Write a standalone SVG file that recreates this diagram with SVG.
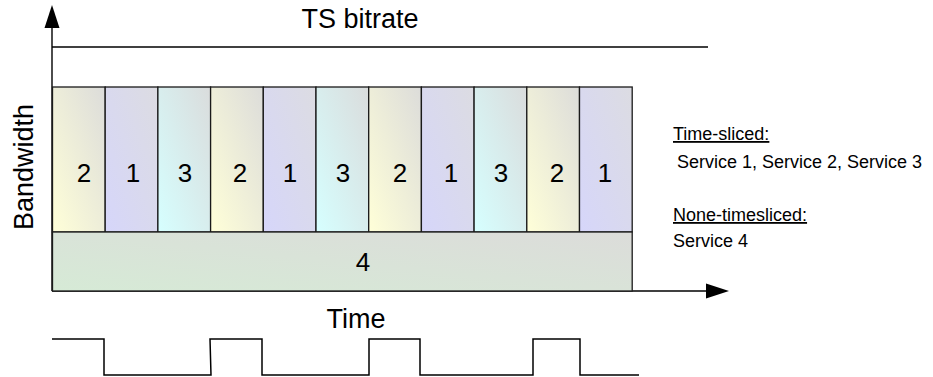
<svg xmlns="http://www.w3.org/2000/svg" width="933" height="377" viewBox="0 0 933 377">
  <style>
    .lbl { font-family: "Liberation Sans", Arial, sans-serif; fill: #000; }
    .big { font-size: 27px; }
    .num { font-size: 26px; text-anchor: middle; }
    .note { font-size: 18px; }
    .slot { stroke: #1a1a1a; stroke-width: 1.3; }
    .axis { stroke: #000; stroke-width: 1.4; fill: none; }
    .wave { stroke: #000; stroke-width: 1.5; fill: none; }
  </style>
  <defs>
    <linearGradient id="gY" x1="0" y1="1" x2="1" y2="0">
      <stop offset="0" stop-color="#FFFFD8"/>
      <stop offset="1" stop-color="#DCDCDA"/>
    </linearGradient>
    <linearGradient id="gP" x1="0" y1="1" x2="1" y2="0">
      <stop offset="0" stop-color="#D6D6FA"/>
      <stop offset="1" stop-color="#DCDCE2"/>
    </linearGradient>
    <linearGradient id="gC" x1="0" y1="1" x2="1" y2="0">
      <stop offset="0" stop-color="#D6FFFF"/>
      <stop offset="1" stop-color="#DADCDC"/>
    </linearGradient>
    <linearGradient id="gG" x1="0" y1="1" x2="1" y2="0">
      <stop offset="0" stop-color="#D6EAD6"/>
      <stop offset="1" stop-color="#DCDCDA"/>
    </linearGradient>
  </defs>

  <rect width="933" height="377" fill="#fff"/>

  <!-- axes and bitrate ceiling -->
  <g id="connectors">
    <line class="axis" x1="52" y1="26" x2="52" y2="291"/>
    <polygon points="52,5 44.5,28 59.5,28" fill="#000"/>
    <line class="axis" x1="52" y1="291" x2="708" y2="291"/>
    <polygon points="729,291 706,283.5 706,298.5" fill="#000"/>
    <line class="axis" x1="52" y1="47" x2="708" y2="47"/>
  </g>

  <text class="lbl big" x="360" y="28" text-anchor="middle">TS bitrate</text>
  <text class="lbl big" transform="translate(33,167) rotate(-90)" text-anchor="middle">Bandwidth</text>
  <text class="lbl big" x="356" y="328" text-anchor="middle">Time</text>

  <!-- time-sliced bursts -->
  <g id="slot1"><rect class="slot" x="52.5" y="87" width="52.7" height="145" fill="url(#gY)"/><text class="lbl num" x="84" y="182">2</text></g>
  <g id="slot2"><rect class="slot" x="105.2" y="87" width="52.7" height="145" fill="url(#gP)"/><text class="lbl num" x="133" y="182">1</text></g>
  <g id="slot3"><rect class="slot" x="157.9" y="87" width="52.7" height="145" fill="url(#gC)"/><text class="lbl num" x="185" y="182">3</text></g>
  <g id="slot4"><rect class="slot" x="210.6" y="87" width="52.7" height="145" fill="url(#gY)"/><text class="lbl num" x="240" y="182">2</text></g>
  <g id="slot5"><rect class="slot" x="263.3" y="87" width="52.7" height="145" fill="url(#gP)"/><text class="lbl num" x="290" y="182">1</text></g>
  <g id="slot6"><rect class="slot" x="316" y="87" width="52.7" height="145" fill="url(#gC)"/><text class="lbl num" x="343" y="182">3</text></g>
  <g id="slot7"><rect class="slot" x="368.7" y="87" width="52.7" height="145" fill="url(#gY)"/><text class="lbl num" x="400" y="182">2</text></g>
  <g id="slot8"><rect class="slot" x="421.4" y="87" width="52.7" height="145" fill="url(#gP)"/><text class="lbl num" x="451" y="182">1</text></g>
  <g id="slot9"><rect class="slot" x="474.1" y="87" width="52.7" height="145" fill="url(#gC)"/><text class="lbl num" x="501" y="182">3</text></g>
  <g id="slot10"><rect class="slot" x="526.8" y="87" width="52.7" height="145" fill="url(#gY)"/><text class="lbl num" x="557" y="182">2</text></g>
  <g id="slot11"><rect class="slot" x="579.5" y="87" width="52.7" height="145" fill="url(#gP)"/><text class="lbl num" x="605" y="182">1</text></g>

  <!-- continuous service -->
  <g id="service4"><rect class="slot" x="52.5" y="232" width="579.7" height="59" fill="url(#gG)"/><text class="lbl num" x="363" y="271">4</text></g>

  <!-- legend -->
  <g id="legend">
    <text class="lbl note" x="673" y="140" text-decoration="underline">Time-sliced:</text>
    <text class="lbl note" x="677" y="168">Service 1, Service 2, Service 3</text>
    <text class="lbl note" x="673" y="221" text-decoration="underline">None-timesliced:</text>
    <text class="lbl note" x="673" y="247">Service 4</text>
  </g>

  <!-- burst on/off signal for service 2 -->
  <g id="signal">
    <polyline class="wave" points="52,339 104,339 104,375 211,375 210,339 262,339 262,375 369,375 369,339 420,339 420,375 533,375 533,339 580,339 580,375 639,375"/>
  </g>
</svg>
